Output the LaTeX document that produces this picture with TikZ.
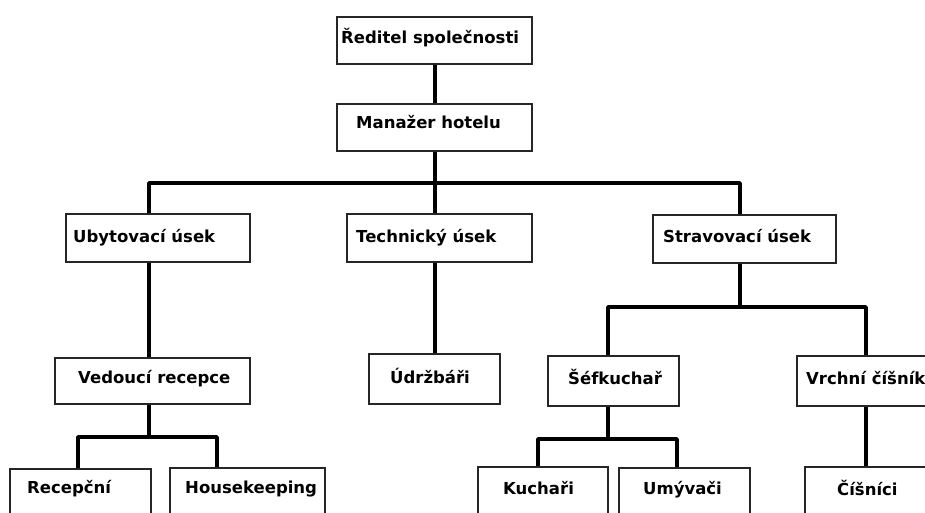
\documentclass[tikz,border=0pt]{standalone}
\usepackage{fontspec}
\setmainfont{DejaVu Sans}
\begin{document}
\begin{tikzpicture}[x=1pt,y=-1pt,
  box/.style={draw=black!85, line width=1.6pt, fill=white, inner sep=0pt},
  conn/.style={draw=black, line width=3.6pt, line join=round},
  lbl/.style={anchor=base west, inner sep=0pt, text=black,
    font=\bfseries\fontsize{16.5}{20}\selectfont}]
\useasboundingbox (0,0) rectangle (925,512);
\clip (0,0) rectangle (925,512);

% boxes: (left,top) rectangle (right,bottom)
\newcommand{\orgbox}[5]{%
  \node[box, minimum width={#4-#2}, minimum height={#5-#3}, anchor=north west] (#1) at (#2,#3) {};}
\orgbox{red}{336}{16}{531}{63}
\orgbox{man}{336}{103}{531}{150}
\orgbox{uby}{65}{213}{249}{261}
\orgbox{tech}{346}{213}{531}{261}
\orgbox{strav}{652}{214}{835}{262}
\orgbox{ved}{54}{357}{249}{403}
\orgbox{udr}{368}{353}{499}{403}
\orgbox{sef}{547}{355}{678}{405}
\orgbox{vrch}{796}{355}{960}{405}
\orgbox{rec}{9}{468}{150}{530}
\orgbox{hk}{169}{467}{324}{530}
\orgbox{kuch}{477}{466}{607}{530}
\orgbox{umy}{618}{467}{749}{530}
\orgbox{cis}{804}{466}{960}{530}

% labels
\node[lbl] (tred)   at (341,43)  {Ředitel společnosti};
\node[lbl] (tman)   at (356,128) {Manažer hotelu};
\node[lbl] (tuby)   at (73,242)  {Ubytovací úsek};
\node[lbl] (ttech)  at (356,242) {Technický úsek};
\node[lbl] (tstrav) at (663,242) {Stravovací úsek};
\node[lbl] (tved)   at (78,383)  {Vedoucí recepce};
\node[lbl] (tudr)   at (390,383) {Údržbáři};
\node[lbl] (tsef)   at (568,384) {Šéfkuchař};
\node[lbl] (tvrch)  at (806,384) {Vrchní číšník};
\node[lbl] (trec)   at (27,493)  {Recepční};
\node[lbl] (thk)    at (185,493) {Housekeeping};
\node[lbl] (tkuch)  at (503,494) {Kuchaři};
\node[lbl] (tumy)   at (643,494) {Umývači};
\node[lbl] (tcis)   at (837,495) {Číšníci};

% connector columns and bus rows
\coordinate (xmain) at (435,0);
\coordinate (xuby)  at (149,0);
\coordinate (xstr)  at (740,0);
\coordinate (xsef)  at (608,0);
\coordinate (xvrch) at (866,0);
\coordinate (xrec)  at (78,0);
\coordinate (xhk)   at (217,0);
\coordinate (xkuch) at (538,0);
\coordinate (xumy)  at (677,0);
\coordinate (ybus1) at (0,183);
\coordinate (ybus2) at (0,307);
\coordinate (ybus3) at (0,437);
\coordinate (ybus4) at (0,439);

% connectors
\draw[conn] (red.south -| xmain) -- (man.north -| xmain);
\draw[conn] (man.south -| xmain) -- (tech.north -| xmain);
\draw[conn] (uby.north -| xuby) -- (xuby |- ybus1) -- (xstr |- ybus1) -- (strav.north -| xstr);
\draw[conn] (uby.south -| xuby) -- (ved.north -| xuby);
\draw[conn] (tech.south -| xmain) -- (udr.north -| xmain);
\draw[conn] (strav.south -| xstr) -- (xstr |- ybus2);
\draw[conn] (sef.north -| xsef) -- (xsef |- ybus2) -- (xvrch |- ybus2) -- (vrch.north -| xvrch);
\draw[conn] (ved.south -| xuby) -- (xuby |- ybus3);
\draw[conn] (rec.north -| xrec) -- (xrec |- ybus3) -- (xhk |- ybus3) -- (hk.north -| xhk);
\draw[conn] (sef.south -| xsef) -- (xsef |- ybus4);
\draw[conn] (kuch.north -| xkuch) -- (xkuch |- ybus4) -- (xumy |- ybus4) -- (umy.north -| xumy);
\draw[conn] (vrch.south -| xvrch) -- (cis.north -| xvrch);
\end{tikzpicture}
\end{document}
